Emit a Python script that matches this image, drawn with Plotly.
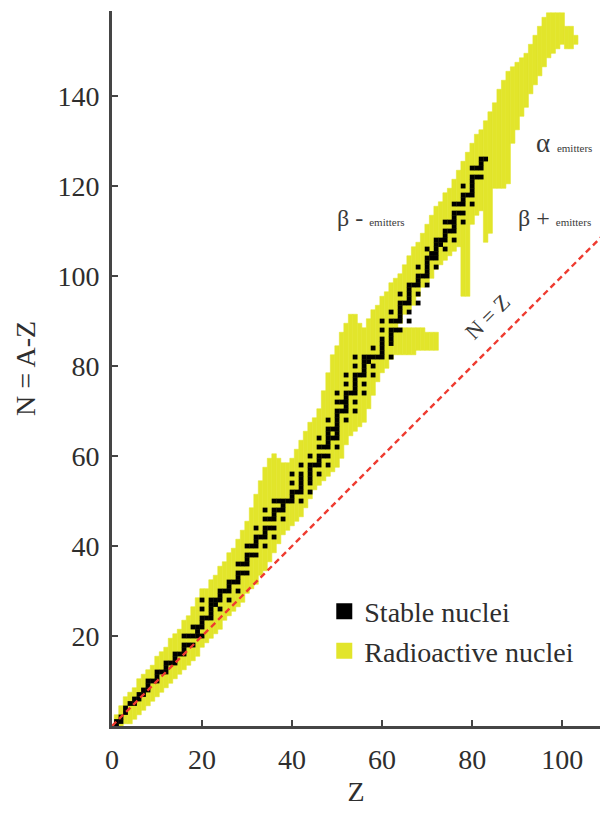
import plotly.graph_objects as go

# ---------------- data ----------------
# Radioactive (yellow) band: for each Z, lowest and highest N drawn
band_Z = list(range(1, 104))
band_low = [0, 0, 1, 1, 2, 3, 4, 5, 6, 7, 8, 9, 10, 11, 12, 13, 14, 15, 16, 18,
            19, 20, 21, 22, 24, 25, 26, 27, 28, 30, 31, 32, 34, 35, 37, 39, 41, 43, 44, 45,
            46, 47, 49, 51, 53, 54, 55, 56, 57, 58, 60, 63, 65, 66, 67, 68, 71, 74, 77, 79,
            80, 82, 88, 90, 92, 93, 94, 96, 98, 99, 100, 102, 103, 104, 105, 106, 107, 96, 96, 112,
            114, 115, 108, 110, 120, 120, 120, 121, 130, 133, 136, 138, 141, 143, 145, 147, 149, 150, 151, 152,
            151, 151, 152]
band_high = [2, 4, 6, 7, 8, 10, 11, 12, 13, 15, 16, 17, 19, 20, 21, 23, 24, 26, 28, 30,
             30, 32, 33, 35, 36, 38, 39, 41, 43, 45, 48, 51, 54, 57, 59, 60, 59, 58, 58, 59,
             61, 63, 65, 67, 68, 70, 74, 78, 82, 84, 87, 89, 91, 91, 89, 88, 90, 92, 93, 95,
             96, 98, 99, 100, 102, 104, 106, 107, 109, 111, 113, 115, 116, 118, 119, 121, 123, 125, 127, 129,
             131, 132, 134, 136, 138, 141, 143, 145, 146, 147, 148, 149, 151, 153, 155, 157, 158, 158, 158, 158,
             155, 155, 153]

# Detached radioactive finger (proton-rich side near N = 82-88)
island_Z = [63, 64, 65, 66, 67, 68, 69, 70, 71, 72]
island_low = [83, 83, 83, 83, 83, 84, 84, 84, 84, 84]
island_high = [88, 88, 88, 88, 88, 88, 88, 87, 87, 87]

# Stable nuclei: neutron numbers for Z = 1 .. 83
stable_N = [
    [0, 1], [1, 2], [3, 4], [5], [5, 6], [6, 7], [7, 8], [8, 9, 10], [10], [10, 11, 12],
    [12], [12, 13, 14], [14], [14, 15, 16], [16], [16, 17, 18, 20], [18, 20], [18, 20, 22], [20, 21, 22], [20, 22, 23, 24, 26, 28],
    [24], [24, 25, 26, 27, 28], [27, 28], [26, 28, 29, 30], [30], [28, 30, 31, 32], [32], [30, 32, 33, 34, 36], [34, 36], [34, 36, 37, 38, 40],
    [38, 40], [38, 40, 41, 42, 44], [42], [40, 42, 43, 44, 46, 48], [44, 46], [42, 44, 46, 47, 48, 50], [48, 50], [46, 48, 49, 50], [50], [50, 51, 52, 54, 56],
    [52], [50, 52, 53, 54, 55, 56, 58], [], [52, 54, 55, 56, 57, 58, 60], [58], [56, 58, 59, 60, 62, 64], [60, 62], [58, 60, 62, 63, 64, 65, 66, 68], [64, 66], [62, 64, 65, 66, 67, 68, 69, 70, 72, 74],
    [70, 72], [68, 70, 71, 72, 73, 74, 76, 78], [74], [70, 72, 74, 75, 76, 77, 78, 80, 82], [78], [74, 76, 78, 79, 80, 81, 82], [81, 82], [78, 80, 82, 84], [82], [82, 83, 84, 85, 86, 88, 90],
    [], [82, 85, 86, 87, 88, 90, 92], [88, 90], [88, 90, 91, 92, 93, 94, 96], [94], [90, 92, 94, 95, 96, 97, 98], [98], [94, 96, 98, 99, 100, 102], [100], [98, 100, 101, 102, 103, 104, 106],
    [104, 105], [102, 104, 105, 106, 107, 108], [107, 108], [106, 108, 109, 110, 112], [110, 112], [108, 110, 111, 112, 113, 114, 116], [114, 116], [112, 114, 116, 117, 118, 120], [118], [116, 118, 119, 120, 121, 122, 124],
    [122, 124], [122, 124, 125, 126], [126],
]

nz_line = [0, 110]
x_ticks = [0, 20, 40, 60, 80, 100]
y_ticks = [20, 40, 60, 80, 100, 120, 140]

# ---------------- styling ----------------
YELLOW = "#E2E52B"
AXIS = "#454545"
RED = "#EE3B30"
FONT = "Liberation Serif, Times New Roman, serif"
TXT = "#2e2e2e"

stable_x = [z for z, ns in enumerate(stable_N, start=1) for _ in ns]
stable_y = [n for ns in stable_N for n in ns]

fig = go.Figure()

fig.add_trace(go.Bar(
    x=band_Z, base=[l - 0.5 for l in band_low],
    y=[h - l + 1 for l, h in zip(band_low, band_high)],
    width=1, marker=dict(color=YELLOW, line=dict(color=YELLOW, width=0.6)),
    showlegend=False, hoverinfo="skip"))
fig.add_trace(go.Bar(
    x=island_Z, base=[l - 0.5 for l in island_low],
    y=[h - l + 1 for l, h in zip(island_low, island_high)],
    width=1, marker=dict(color=YELLOW, line=dict(color=YELLOW, width=0.6)),
    showlegend=False, hoverinfo="skip"))
fig.add_trace(go.Scatter(
    x=stable_x, y=stable_y, mode="markers",
    marker=dict(symbol="square", size=4.8, color="black", line=dict(width=0)),
    showlegend=False, hoverinfo="skip"))
fig.add_trace(go.Scatter(
    x=nz_line, y=nz_line, mode="lines",
    line=dict(color=RED, width=2.4, dash="6px,4px"),
    showlegend=False, hoverinfo="skip"))

# legend entries
fig.add_trace(go.Scatter(x=[None], y=[None], mode="markers", name="Stable nuclei",
                         marker=dict(symbol="square", size=26, color="black")))
fig.add_trace(go.Scatter(x=[None], y=[None], mode="markers", name="Radioactive nuclei",
                         marker=dict(symbol="square", size=26, color=YELLOW)))

small = "<span style='font-size:11px'>emitters</span>"
annotations = [
    dict(x=100.3, y=129.5, text="α " + small, font=dict(size=27)),
    dict(x=57.6, y=113, text="β - " + small, font=dict(size=24)),
    dict(x=98.4, y=113, text="β + " + small, font=dict(size=24)),
    dict(x=83.5, y=91, text="N = Z", textangle=-45, font=dict(size=22)),
]
for a in annotations:
    a.update(xref="x", yref="y", showarrow=False)
    a["font"].update(family=FONT, color="#3a3a3a")

fig.update_layout(
    width=600, height=816,
    margin=dict(l=112, r=0, t=11, b=90),
    paper_bgcolor="white", plot_bgcolor="white",
    barmode="overlay",
    font=dict(family=FONT, color=TXT, size=24),
    showlegend=True,
    legend=dict(x=0.435, y=0.195, xanchor="left", yanchor="top",
                font=dict(family=FONT, size=28, color=TXT),
                bgcolor="rgba(0,0,0,0)", itemsizing="trace", tracegroupgap=0),
    annotations=annotations,
)
fig.update_xaxes(range=[0, 108.4], tickvals=x_ticks, showgrid=False, zeroline=False,
                 showline=True, linecolor=AXIS, linewidth=3,
                 ticks="inside", ticklen=6, tickwidth=2, tickcolor=AXIS,
                 ticklabelstandoff=6,
                 tickfont=dict(family=FONT, size=28, color=TXT),
                 title=dict(text="Z", font=dict(family=FONT, size=28, color=TXT), standoff=8))
fig.update_yaxes(range=[0, 158.9], tickvals=y_ticks, showgrid=False, zeroline=False,
                 showline=True, linecolor=AXIS, linewidth=3,
                 ticks="inside", ticklen=6, tickwidth=2, tickcolor=AXIS,
                 ticklabelstandoff=4,
                 tickfont=dict(family=FONT, size=28, color=TXT),
                 title=dict(text="N = A-Z", font=dict(family=FONT, size=28, color=TXT), standoff=14))

fig.write_html("out.html")
